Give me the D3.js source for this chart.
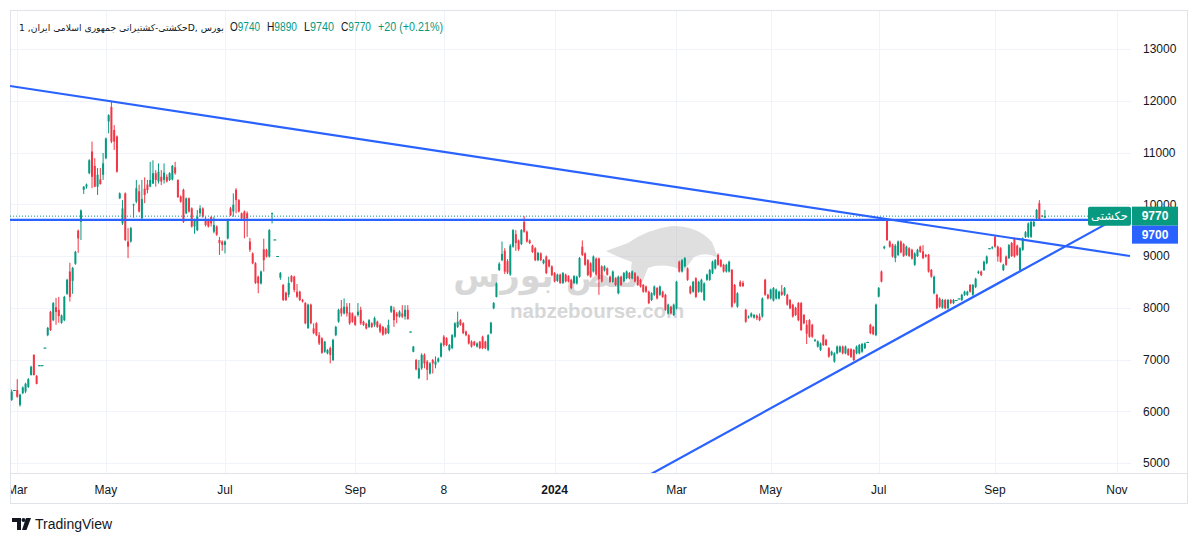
<!DOCTYPE html>
<html><head><meta charset="utf-8">
<script src="https://cdn.jsdelivr.net/npm/d3@7"></script>
<style>body{margin:0;background:#fff;overflow:hidden}svg{display:block;font-family:"Liberation Sans",Arial,"DejaVu Sans",sans-serif}</style>
</head><body><svg id="c" width="1200" height="543"></svg>
<script>
// daily candles [open, high, low, close]
const candles = [
[6220,6420,6200,6380],[6410,6410,6410,6410],[6410,6620,6260,6280],[6120,6340,6090,6320],[6350,6480,6330,6460],[6380,6550,6350,6530],[6470,6640,6450,6620],[6700,6880,6690,6860],[7090,7100,6690,6700],[6680,6700,6520,6530],
[6890,6890,6890,6890],[6890,6890,6890,6890],[7230,7230,7230,7230],[7470,7630,7450,7610],[7920,7940,7550,7570],[7760,8110,7740,8090],[8010,8190,7670,7920],[7960,8210,7710,7840],[7710,7870,7690,7850],[7760,8230,7740,8210],[8270,8560,8250,8540],
[8700,8870,8120,8210],[8520,8790,8270,8770],[8850,9100,8830,9080],[9490,9510,9060,9340],[9660,9900,9310,9880],[10280,10350,10200,10340],[10340,10400,10300,10380],[10600,10870,10580,10850],[11020,11210,10310,10530],[10740,10890,10330,10340],[10340,10700,10180,10570],
[10480,10700,10380,10390],[10570,10990,10470,10790],[10890,11290,10870,11270],[11600,11740,11370,11720],[11880,11980,11180,11210],[11435,11530,11050,11210],[11310,11330,10610,10630],[10115,10230,10100,10210],[9630,10080,9600,9920],[10210,10230,9290,9310],
[9280,9540,8960,9180],[9280,9560,9260,9540],[9990,10010,9740,10000],[10050,10470,10020,10310],[10250,10380,9840,9860],[9730,10470,9690,10100],[10300,10520,10020,10180],[10380,10470,10210,10275],[10340,10820,10330,10470],[10400,10850,10390,10600],
[10600,10660,10340,10470],[10440,10790,10400,10630],[10530,10660,10370,10440],[10470,10790,10400,10610],[10530,10580,10420,10440],[10470,10620,10450,10600],[10480,10760,10460,10740],[10715,10820,10570,10600],[10470,10480,10120,10140],[10150,10170,10030,10050],
[10280,10300,9640,9660],[9825,10130,9810,10115],[10115,10130,9840,9860],[9920,9940,9550,9570],[9570,9720,9430,9700],[9500,9890,9480,9760],[9825,9980,9760,9920],[9920,9940,9740,9760],[9710,9760,9570,9600],[9700,9720,9550,9570],
[9750,9770,9570,9630],[9470,9760,9440,9600],[9570,9590,9390,9410],[9310,9370,9020,9250],[9280,9300,9100,9215],[9215,9300,9050,9280],[9340,9720,9320,9700],[9920,9950,9770,9790],[9860,10210,9760,9990],[10280,10310,9825,10080],
[10080,10100,9840,9860],[9825,9840,9710,9730],[9860,9880,9340,9700],[9825,9860,9370,9730],[9280,9350,9080,9120],[9050,9070,8840,8860],[8860,8880,8460,8480],[8600,8620,8280,8470],[8470,8720,8450,8700],[9130,9335,8700,8920],
[9120,9140,8970,8990],[8990,9520,8970,9500],[9810,9840,9630,9830],[9320,9320,9320,9320],[9000,9000,9000,9000],[8580,8690,8540,8670],[8440,8460,8130,8150],[8290,8310,8130,8150],[8250,8600,8200,8480],[8615,8630,8490,8505],
[8600,8620,8300,8345],[8310,8460,8190,8215],[8310,8330,8130,8150],[8150,8170,8100,8120],[8090,8110,7680,7700],[7610,8080,7590,8060],[8060,8080,7680,7700],[7600,7700,7490,7510],[7700,7720,7450,7470],[7470,7530,7280,7310],
[7410,7430,7110,7130],[7150,7360,7130,7345],[7120,7200,7100,7185],[7220,7250,6925,7090],[6990,7400,6970,7380],[7470,7650,7450,7630],[7730,7980,7710,7960],[7990,8150,7830,7890],[7890,8180,7870,8020],[8020,8090,7830,7890],
[7910,8090,7670,7700],[7890,7910,7710,7730],[7830,7850,7650,7670],[7860,8090,7830,7925],[7960,8020,7670,7700],[7730,7750,7650,7670],[7690,7710,7580,7600],[7630,7780,7610,7760],[7700,7720,7610,7630],
[7670,7830,7630,7800],[7730,7750,7610,7630],[7670,7700,7510,7540],[7630,7650,7460,7480],[7600,7620,7480,7500],[7510,7770,7490,7670],[7925,8040,7900,8030],[7960,8020,7630,7760],[7890,7920,7700,7830],[7830,7950,7810,7925],
[7890,8050,7800,7830],[7830,8050,7770,7960],[7960,8050,7770,7780],[7540,7540,7540,7540],[7150,7260,7140,7250],[6990,7010,6790,6810],[6640,6990,6620,6830],[6830,7120,6800,7090],[7090,7120,6830,6925],[6960,6990,6600,6800],
[6730,6950,6710,6925],[6990,7010,6730,6925],[6900,7060,6830,6960],[6960,7040,6940,7020],[7055,7330,7040,7310],[7440,7470,7250,7280],[7410,7430,7260,7280],[7185,7300,7160,7280],[7220,7490,7200,7470],
[7440,7720,7420,7700],[7630,7925,7610,7730],[7760,7780,7650,7670],[7700,7720,7490,7510],[7540,7560,7450,7470],[7470,7490,7290,7310],[7345,7370,7230,7250],[7345,7360,7260,7280],[7250,7330,7230,7310],[7345,7360,7200,7220],
[7440,7460,7200,7220],[7345,7360,7200,7220],[7185,7490,7160,7470],[7510,7730,7490,7710],
[7990,8110,7970,8090],[8210,8490,8200,8470],[8730,8880,8710,8850],[8920,9280,8900,9040],[9100,9150,8650,8700],[8900,8940,8650,8680],[8640,9230,8620,9200],[9180,9520,9160,9500],[9420,9500,9100,9250],[9300,9320,9100,9130],
[9230,9520,9210,9500],[9660,9770,9450,9470],[9470,9490,9260,9280],[9300,9320,9230,9250],[9200,9220,9060,9080],[9150,9170,8900,8920],[8920,9080,8900,9060],[9050,9070,8900,8920],[8860,8940,8840,8920],[8990,9010,8650,8670],
[8920,8940,8780,8800],[8800,8820,8610,8630],[8670,8690,8490,8510],[8520,8660,8500,8640],[8640,8660,8460,8480],[8480,8690,8460,8670],[8640,8660,8490,8510],[8610,8630,8490,8510],[8540,8560,8360,8380],[8480,8630,8460,8610],
[8470,8620,8450,8600],[8600,8980,8580,8960],[9180,9300,9000,9020],[9050,9070,8810,8830],[8920,8940,8610,8630],[8860,8880,8580,8600],[8700,9010,8680,8990],[8950,8970,8620,8640],[8950,8970,8250,8550],[8800,8820,8490,8505],
[8720,8820,8700,8800],[8760,8780,8620,8640],[8600,8620,8480,8500],[8500,8720,8480,8700],[8570,8590,8420,8440],[8280,8620,8260,8600],[8600,8620,8420,8440],[8510,8690,8490,8670],[8570,8720,8550,8700],[8670,8690,8550,8570],
[8570,8720,8550,8700],[8670,8690,8490,8510],[8600,8620,8420,8440],[8540,8560,8390,8410],[8440,8460,8290,8310],[8410,8430,8290,8310],[8310,8330,8070,8090],[8150,8300,8130,8280],[8250,8430,8230,8410],[8380,8400,8160,8180],
[8250,8430,8230,8410],[8310,8330,8190,8210],[8250,8270,7940,7960],[7890,8080,7870,8060],[8020,8040,7870,7890],[7860,8080,7840,8060],[7990,8520,7970,8505],[8890,8910,8680,8700],[8700,8940,8680,8920],[8800,8980,8780,8960],
[8760,8780,8520,8540],[8410,8430,8260,8280],[8310,8520,8290,8500],[8570,8590,8190,8210],[8310,8520,8290,8500],[8310,8560,8290,8540],[8150,8490,8130,8470],[8540,8660,8520,8640],[8540,8750,8520,8730],[8670,8910,8650,8890],
[8760,8940,8740,8920],[9020,9050,8810,8830],[8920,8940,8780,8800],[8830,8850,8680,8700],[8700,8850,8680,8830],[8700,8910,8680,8890],[8730,8750,8000,8020],[8440,8460,8080,8100],[8020,8300,8000,8280],[8500,8530,8400,8420],
[8480,8520,8400,8420],[7960,7980,7710,7730],[7810,7850,7790,7830],[7830,7910,7810,7890],[7810,7880,7790,7860],[7850,7870,7760,7800],[7830,7890,7740,7760],[7830,8200,7810,8180],[8540,8560,8230,8250],[8250,8270,8160,8180],
[8180,8370,8160,8350],[8140,8400,8120,8380],[8180,8370,8160,8350],[8180,8330,8160,8310],[8310,8440,8230,8250],[8250,8400,8230,8380],[8250,8270,8040,8060],[8150,8170,7970,7990],[8060,8080,7810,7830],[8000,8020,7840,7860],
[8090,8110,7740,7760],[8090,8110,7550,7570],[7860,7880,7680,7700],[7670,7760,7300,7500],[7760,7780,7420,7440],[7670,7690,7420,7440],[7360,7400,7340,7380],[7250,7370,7230,7350],[7185,7330,7165,7310],[7470,7490,7260,7280],
[7380,7400,7260,7280],[7220,7240,7035,7055],[7090,7170,7070,7150],[6960,7140,6940,7120],[7120,7270,7100,7250],[7150,7270,7130,7250],[7250,7270,7100,7120],[7120,7270,7100,7250],[7200,7220,7070,7090],[7200,7220,7030,7050],
[7185,7200,6970,6990],[7120,7270,7100,7250],[7120,7300,7100,7280],[7150,7320,7130,7300],[7220,7330,7200,7310],[7340,7340,7340,7340],[7670,7690,7490,7510],[7630,7650,7470,7490],[7470,8080,7450,8060],[8215,8400,8200,8380],
[8700,8720,8490,8505],[9150,9200,9130,9180],[9700,9720,9290,9310],[9280,9300,9160,9180],[9220,9240,8970,8990],[8960,9230,8880,9200],[9020,9300,9000,9280],[9280,9300,9050,9070],[9230,9250,8980,9000],[9020,9200,9000,9180],
[9150,9170,8980,9000],[9120,9140,8930,8950],[8830,9070,8810,9050],[9000,9140,8980,9120],[9180,9200,9060,9080],[9090,9210,8940,8960],[9020,9040,8970,8990],[9020,9040,8680,8700],[8730,8750,8580,8600],[8280,8620,8260,8600],
[8250,8270,7970,7990],[8180,8200,8000,8020],[8000,8170,7980,8150],[8150,8170,7970,7990],[7990,8170,7970,8150],[8150,8170,8070,8090],[8090,8170,8070,8150],[8150,8150,8150,8150],[8180,8180,8180,8180],[8150,8270,8130,8250],
[8250,8330,8230,8310],[8250,8330,8230,8310],[8440,8460,8290,8310],[8250,8460,8230,8440],[8400,8580,8380,8560],[8670,8720,8650,8700],[8700,8720,8610,8630],[8730,8910,8710,8890],[8860,9010,8840,8990],[9150,9150,9150,9150],
[9150,9190,9130,9170],[9370,9390,9160,9180],[9180,9200,8890,8990],[9150,9170,8870,8890],[8730,8850,8710,8830],[8990,9010,8810,8830],[8960,9230,8940,9210],[9250,9270,8980,9000],[9340,9360,8970,8990],[9200,9220,9000,9020],
[8730,9170,8710,9150],[9120,9360,9100,9340],[9370,9480,9350,9460],[9370,9650,9350,9630],[9370,9680,9350,9660],[9580,9680,9560,9660],[9730,9910,9710,9890],[10020,10080,9680,9700],[9780,9790,9750,9760],[9740,9890,9740,9770]
];
const priceTicks = [5000,6000,7000,8000,9000,10000,11000,12000,13000];
const timeLabels = ["Mar","May","Jul","Sep","8","2024","Mar","May","Jul","Sep","Nov"];
const timeIndex  = [2,34,77,124,156,196,240,274,313,355,399];
const levelPrice = 9700;
const lastPrice = 9770;
const upperTrend = [[-0.6,12285],[403.7,9000]];
const lowerTrend = [[228,4704],[395.8,9640]];
const titleText = "حکشتی-کشتیرانی جمهوری اسلامی ایران, 1D, بورس";
const ohlcLabels = ["O","H","L","C"];
const ohlcValues = ["9740","9890","9740","9770"];
const changeText = "+20 (+0.21%)";
const symbolTag = "حکشتی";

const UP="#089981", DN="#F23645", BLUE="#2962FF", GRID="#f0f3fa", BORDER="#e0e3eb", TXT="#131722";
const svg = d3.select("#c");
const pane = {l:10,r:1131,t:10,b:473};

const x = d3.scaleLinear().domain([0, candles.length-1]).range([11.7, 1044.9]);
const y = d3.scaleLinear().domain([5000,13000]).range([463,49]);

const defs = svg.append("defs");
defs.append("clipPath").attr("id","pane").append("rect").attr("x",pane.l).attr("y",pane.t).attr("width",pane.r-pane.l).attr("height",pane.b-pane.t);
defs.append("clipPath").attr("id","taxis").append("rect").attr("x",pane.l+1).attr("y",pane.b).attr("width",1188-pane.l).attr("height",30);

// grid
svg.append("g").selectAll("line").data(priceTicks).join("line")
  .attr("x1",pane.l).attr("x2",pane.r).attr("y1",d=>Math.round(y(d))+0.5).attr("y2",d=>Math.round(y(d))+0.5)
  .attr("stroke",GRID).attr("stroke-width",1);
svg.append("g").attr("clip-path","url(#pane)").selectAll("line").data(timeIndex).join("line")
  .attr("x1",d=>Math.round(x(d))+0.5).attr("x2",d=>Math.round(x(d))+0.5).attr("y1",pane.t).attr("y2",pane.b)
  .attr("stroke",GRID).attr("stroke-width",1);

// borders
svg.append("rect").attr("x",pane.l+0.5).attr("y",pane.t+0.5).attr("width",1187-pane.l).attr("height",503-pane.t)
  .attr("fill","none").attr("stroke",BORDER);
svg.append("line").attr("x1",pane.l).attr("x2",1188).attr("y1",pane.b+0.5).attr("y2",pane.b+0.5).attr("stroke",BORDER);

// watermark
const wm = svg.append("g").attr("opacity",0.45);
wm.append("path").attr("fill","#b9b9b9")
  .attr("d","M606 251 L628 243 Q648 229 672 226 Q698 226 712 242 L718 258 Q706 251 694 257 L684 271 Q664 262 648 268 L642 283 Q628 276 632 262 Q620 258 606 251 Z");
wm.append("text").attr("x",546).attr("y",287).attr("text-anchor","middle")
  .attr("font-family","DejaVu Sans").attr("font-weight","bold").attr("font-size",34).attr("fill","#a8a8a8").text("نبض بورس");
wm.append("text").attr("x",510).attr("y",318).attr("font-weight","bold").attr("font-size",20.5)
  .attr("font-family","Liberation Sans").attr("fill","#a8a8a8").text("nabzebourse.com");

// candles
const cg = svg.append("g").attr("clip-path","url(#pane)");
const col = d => d[3] >= d[0] ? UP : DN;
cg.selectAll("line.w").data(candles).join("line").attr("class","w")
  .attr("x1",(d,i)=>x(i)).attr("x2",(d,i)=>x(i))
  .attr("y1",d=>y(d[1])).attr("y2",d=>d[1]===d[2]?y(d[2])+1:y(d[2]))
  .attr("stroke",col).attr("stroke-width",1);
cg.selectAll("rect.b").data(candles).join("rect").attr("class","b")
  .attr("x",(d,i)=>x(i)-(d[1]===d[2]?1.4:1))
  .attr("width",d=>d[1]===d[2]?2.8:2)
  .attr("y",d=>y(Math.max(d[0],d[3])))
  .attr("height",d=>Math.max(1,Math.abs(y(d[0])-y(d[3]))))
  .attr("fill",col);

// lines
const lg = svg.append("g").attr("clip-path","url(#pane)");
lg.append("line").attr("x1",pane.l).attr("x2",1088).attr("y1",y(lastPrice)).attr("y2",y(lastPrice))
  .attr("stroke",UP).attr("stroke-width",1).attr("stroke-dasharray","1,2");
lg.append("line").attr("x1",pane.l).attr("x2",pane.r).attr("y1",y(levelPrice)).attr("y2",y(levelPrice))
  .attr("stroke",BLUE).attr("stroke-width",2.2);
const tl = d3.line().x(d=>x(d[0])).y(d=>y(d[1]));
[upperTrend, lowerTrend].forEach(t=>{
  lg.append("path").attr("d",tl(t)).attr("fill","none").attr("stroke",BLUE).attr("stroke-width",2.2);
});

// price axis
svg.append("g").selectAll("text").data(priceTicks).join("text")
  .attr("x",1143).attr("y",d=>y(d)).attr("dy","0.36em").attr("font-size",12).attr("fill",TXT).text(d=>d);

// labels at right
const yl = y(lastPrice);
svg.append("rect").attr("x",1088).attr("y",yl-9.5).attr("width",43).attr("height",19).attr("rx",2).attr("fill",UP);
svg.append("text").attr("x",1109.5).attr("y",yl).attr("dy","0.36em").attr("text-anchor","middle")
  .attr("font-family","DejaVu Sans").attr("font-size",11.5).attr("fill","#fff").text(symbolTag);
svg.append("rect").attr("x",1132).attr("y",yl-9.5).attr("width",46).attr("height",19).attr("fill",UP);
svg.append("text").attr("x",1155).attr("y",yl).attr("dy","0.36em").attr("text-anchor","middle")
  .attr("font-size",12).attr("font-weight","bold").attr("fill","#fff").text(lastPrice);
svg.append("rect").attr("x",1132).attr("y",yl+9.5).attr("width",46).attr("height",18).attr("fill",BLUE);
svg.append("text").attr("x",1155).attr("y",yl+18.5).attr("dy","0.36em").attr("text-anchor","middle")
  .attr("font-size",12).attr("font-weight","bold").attr("fill","#fff").text(levelPrice);

// time axis
svg.append("g").attr("clip-path","url(#taxis)").selectAll("text").data(timeLabels).join("text")
  .attr("x",(d,i)=>x(timeIndex[i])).attr("y",494).attr("text-anchor","middle")
  .attr("font-size",12).attr("fill",TXT).attr("font-weight",d=>d==="2024"?"bold":"normal").text(d=>d);

// header
const hdr = svg.append("g").attr("font-size",12);
const tt = hdr.append("text").attr("x",19).attr("y",31).attr("fill",TXT).attr("font-family","DejaVu Sans").attr("font-size",12.5).text(titleText);
let tw = tt.node().getComputedTextLength();
if (tw > 205) tt.attr("font-size", 12.5*205/tw);
const ox = [230,267,304,341];
ohlcLabels.forEach((l,i)=>{
  const t = hdr.append("text").attr("x",ox[i]).attr("y",31).attr("textLength",30).attr("lengthAdjust","spacingAndGlyphs");
  t.append("tspan").attr("fill",TXT).text(l);
  t.append("tspan").attr("fill",UP).text(ohlcValues[i]);
});
hdr.append("text").attr("x",378).attr("y",31).attr("fill",UP).attr("textLength",65).attr("lengthAdjust","spacingAndGlyphs").text(changeText);

// TradingView logo
const lgo = svg.append("g").attr("fill",TXT);
lgo.append("path").attr("d","M12 518 H21 V530 H17 V522 H12 Z");
lgo.append("circle").attr("cx",23.5).attr("cy",520).attr("r",2);
lgo.append("path").attr("d","M26 518 H31 L26.5 530 H22 Z");
svg.append("text").attr("x",35).attr("y",529).attr("font-size",14).attr("fill",TXT).text("TradingView");
</script></body></html>
